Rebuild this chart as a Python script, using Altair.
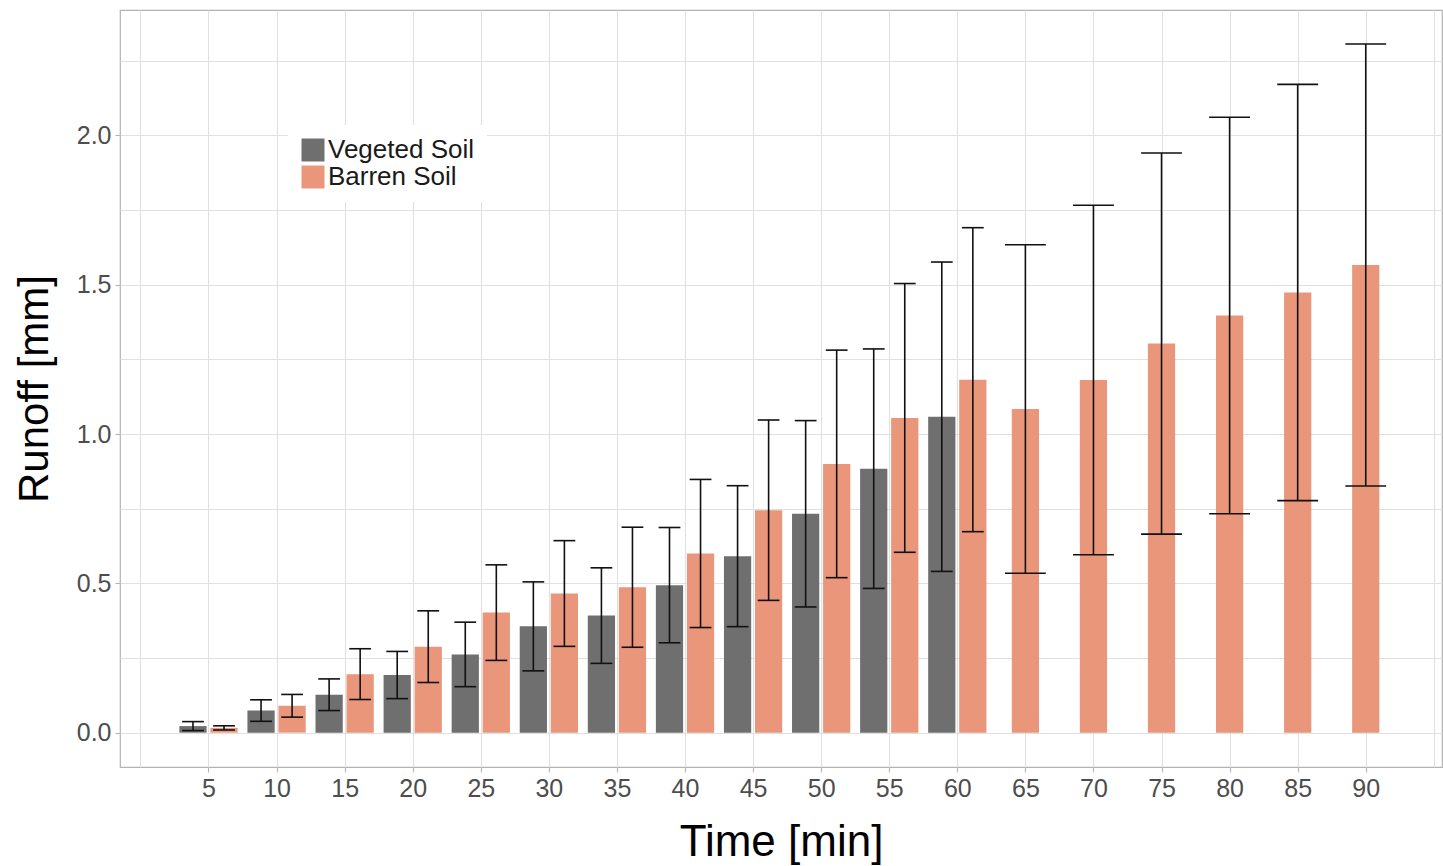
import altair as alt
import numpy as np
import pandas as pd

# Runoff measurements (mean and standard deviation, mm) every 5 minutes
time_veg = [5, 10, 15, 20, 25, 30, 35, 40, 45, 50, 55, 60]
veg_mean = [0.022, 0.074, 0.127, 0.193, 0.262, 0.356, 0.392, 0.494, 0.591, 0.733, 0.884, 1.058]
veg_sd = [0.015, 0.036, 0.053, 0.079, 0.108, 0.149, 0.160, 0.193, 0.236, 0.312, 0.401, 0.518]

time_barren = [5, 10, 15, 20, 25, 30, 35, 40, 45, 50, 55, 60, 65, 70, 75, 80, 85, 90]
barren_mean = [0.016, 0.090, 0.196, 0.288, 0.402, 0.466, 0.487, 0.600, 0.745, 0.900,
               1.054, 1.182, 1.084, 1.181, 1.303, 1.397, 1.474, 1.566]
barren_sd = [0.007, 0.038, 0.085, 0.120, 0.160, 0.177, 0.201, 0.248, 0.302, 0.381,
             0.450, 0.509, 0.550, 0.585, 0.638, 0.664, 0.697, 0.740]

soils = ["Vegeted Soil", "Barren Soil"]
soil_colors = ["#6f6f6f", "#e9967a"]

frames = [
    pd.DataFrame({"time": time_veg, "mean": veg_mean, "sd": veg_sd, "soil": soils[0]}),
    pd.DataFrame({"time": time_barren, "mean": barren_mean, "sd": barren_sd, "soil": soils[1]}),
]
df = pd.concat(frames, ignore_index=True)

# Dodge the two soils side by side where both were measured, centre lone bars
n_groups = df.groupby("time")["soil"].transform("count")
side = df["soil"].map({soils[0]: -1.0, soils[1]: 1.0})
df["pos"] = df["time"] + side * 1.14 * (n_groups > 1)
df["left"] = df["pos"] - 1.0
df["right"] = df["pos"] + 1.0
df["lo"] = df["mean"] - df["sd"]
df["hi"] = df["mean"] + df["sd"]
cap_half = np.where(n_groups > 1, 0.8, 1.5)
df["cap_l"] = df["pos"] - cap_half
df["cap_r"] = df["pos"] + cap_half

FONT = "Liberation Sans"
TICK = "#b3b3b3"

x_major = "datum.value % 5 == 0 && datum.value >= 5 && datum.value <= 90"
x_axis = alt.Axis(
    values=[i * 2.5 for i in range(39)],
    labelExpr=f"({x_major}) ? format(datum.value, 'd') : ''",
    tickColor={"condition": {"test": x_major, "value": TICK}, "value": "transparent"},
    labelOverlap=False,
    titlePadding=19,
    titleFontSize=44,
)
y_major = "datum.value % 0.5 == 0"
y_axis = alt.Axis(
    values=[i * 0.25 for i in range(10)],
    labelExpr=f"({y_major}) ? format(datum.value, '.1f') : ''",
    tickColor={"condition": {"test": y_major, "value": TICK}, "value": "transparent"},
    labelOverlap=False,
    titlePadding=20,
)

x_scale = alt.Scale(domain=[-1.5, 95.6], nice=False, zero=False)
y_scale = alt.Scale(domain=[-0.115, 2.42], nice=False, zero=False)
X_TITLE = "Time [min]"
Y_TITLE = "Runoff [mm]"

base = alt.Chart(df)

bars = base.mark_bar().encode(
    x=alt.X("left:Q", scale=x_scale, axis=x_axis, title=X_TITLE),
    x2="right:Q",
    y=alt.Y("mean:Q", scale=y_scale, axis=y_axis, title=Y_TITLE),
    y2=alt.datum(0),
    color=alt.Color(
        "soil:N",
        scale=alt.Scale(domain=soils, range=soil_colors),
        legend=alt.Legend(title=None),
    ),
)

stems = base.mark_rule(color="#111111", strokeWidth=1.6).encode(
    x=alt.X("pos:Q", scale=x_scale, title=X_TITLE),
    y=alt.Y("lo:Q", scale=y_scale, title=Y_TITLE),
    y2="hi:Q",
)

caps_lo = base.mark_rule(color="#111111", strokeWidth=1.6).encode(
    x=alt.X("cap_l:Q", scale=x_scale, title=X_TITLE),
    x2="cap_r:Q",
    y=alt.Y("lo:Q", scale=y_scale, title=Y_TITLE),
)

caps_hi = base.mark_rule(color="#111111", strokeWidth=1.6).encode(
    x=alt.X("cap_l:Q", scale=x_scale, title=X_TITLE),
    x2="cap_r:Q",
    y=alt.Y("hi:Q", scale=y_scale, title=Y_TITLE),
)

chart = (
    alt.layer(bars, stems, caps_lo, caps_hi)
    .properties(
        width=1322,
        height=757,
        autosize=alt.AutoSizeParams(type="none"),
        padding={"left": 120, "top": 10, "right": 1, "bottom": 99},
        background="white",
    )
    .configure_view(stroke="#b3b3b3", strokeWidth=1.2)
    .configure_axis(
        grid=True,
        gridColor="#e0e0e0",
        gridWidth=1.1,
        domain=False,
        tickSize=5,
        tickWidth=1.1,
        labelPadding=4,
        labelFont=FONT,
        labelFontSize=25,
        labelColor="#4d4d4d",
        titleFont=FONT,
        titleFontSize=42,
        titleFontWeight="normal",
        titleColor="#000000",
    )
    .configure_legend(
        orient="none",
        legendX=168,
        legendY=115,
        fillColor="white",
        padding=12,
        symbolType="square",
        symbolSize=529,
        symbolStrokeWidth=0,
        symbolOpacity=1,
        labelFont=FONT,
        labelFontSize=26,
        labelColor="#1a1a1a",
        labelOffset=2,
        rowPadding=1,
    )
)

chart.save("out.html", embed_options={"renderer": "svg", "actions": False})
